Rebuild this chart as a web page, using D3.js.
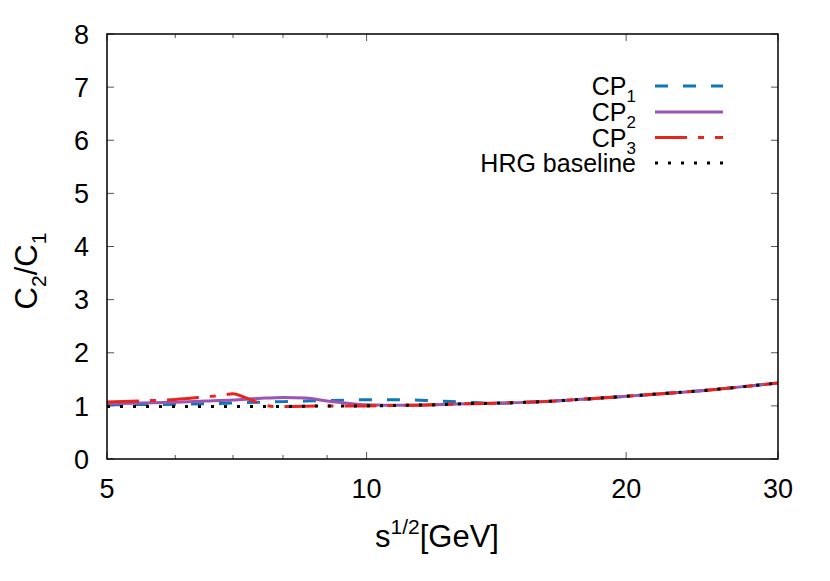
<!DOCTYPE html>
<html><head><meta charset="utf-8">
<script src="https://cdn.jsdelivr.net/npm/d3@7"></script>
<style>body{margin:0;background:#fff}svg{display:block}text{font-family:"Liberation Sans",Arial,sans-serif;fill:#000}</style>
</head><body>
<svg id="c" width="830" height="581"></svg>
<script>
// ---- data ----
const xDomain = [5, 30];
const yDomain = [0, 8];
const xMajorTicks = [5, 10, 20, 30];
const xMinorTicks = [6, 7, 8, 9];
const yTicks = [0, 1, 2, 3, 4, 5, 6, 7, 8];

const cp1X = [5, 5.5, 6, 6.5, 7, 7.5, 8, 8.5, 9, 9.5, 10, 11, 12, 13, 14, 16, 18, 20, 22, 25, 28, 30];
const cp1Y = [1.02, 1.025, 1.03, 1.04, 1.055, 1.07, 1.08, 1.09, 1.1, 1.108, 1.115, 1.115, 1.095, 1.07, 1.05, 1.08, 1.13, 1.18, 1.23, 1.30, 1.38, 1.43];

const cp2X = [5, 5.5, 6, 6.5, 7, 7.5, 8, 8.5, 9, 9.5, 10, 11, 12, 13, 14, 16, 18, 20, 22, 25, 28, 30];
const cp2Y = [1.04, 1.055, 1.07, 1.09, 1.11, 1.14, 1.16, 1.15, 1.09, 1.05, 1.02, 1.01, 1.02, 1.04, 1.05, 1.08, 1.13, 1.18, 1.23, 1.30, 1.38, 1.43];

const cp3X = [5, 5.5, 6, 6.5, 6.8, 7, 7.2, 7.4, 7.6, 7.8, 8, 9, 10, 11, 12, 13, 14, 16, 18, 20, 22, 25, 28, 30];
const cp3Y = [1.075, 1.095, 1.12, 1.17, 1.2, 1.23, 1.17, 1.09, 1.02, 0.99, 0.99, 1.0, 1.0, 1.01, 1.02, 1.04, 1.05, 1.08, 1.13, 1.18, 1.23, 1.30, 1.38, 1.43];

const hrgX = [5, 6, 7, 8, 9, 10, 11, 12, 13, 14, 16, 18, 20, 22, 25, 28, 30];
const hrgY = [0.99, 0.99, 0.99, 0.99, 1.0, 1.0, 1.01, 1.02, 1.04, 1.05, 1.08, 1.13, 1.18, 1.23, 1.30, 1.38, 1.43];

const seriesNames = ["CP1", "CP2", "CP3", "HRG baseline"];

// ---- layout ----
const L = 107, R = 778, T = 34, B = 459;
const svg = d3.select("#c");
const x = d3.scaleLog().domain(xDomain).range([L, R]);
const y = d3.scaleLinear().domain(yDomain).range([B, T]);

const series = [
  {name: seriesNames[0], xs: cp1X, ys: cp1Y, color: "#0f77b7", dash: "13,15"},
  {name: seriesNames[1], xs: cp2X, ys: cp2Y, color: "#9b55b3", dash: null},
  {name: seriesNames[2], xs: cp3X, ys: cp3Y, color: "#e8241b", dash: "32,11,6,11"},
  {name: seriesNames[3], xs: hrgX, ys: hrgY, color: "#000000", dash: "3,10"}
];

// ticks
const tk = svg.append("g").attr("stroke", "#555").attr("stroke-width", 1);
xMajorTicks.forEach(v => {
  tk.append("line").attr("x1", x(v)).attr("x2", x(v)).attr("y1", B).attr("y2", B - 7);
  tk.append("line").attr("x1", x(v)).attr("x2", x(v)).attr("y1", T).attr("y2", T + 7);
});
xMinorTicks.forEach(v => {
  tk.append("line").attr("x1", x(v)).attr("x2", x(v)).attr("y1", B).attr("y2", B - 4);
  tk.append("line").attr("x1", x(v)).attr("x2", x(v)).attr("y1", T).attr("y2", T + 4);
});
yTicks.forEach(v => {
  tk.append("line").attr("x1", L).attr("x2", L + 7).attr("y1", y(v)).attr("y2", y(v));
  tk.append("line").attr("x1", R).attr("x2", R - 7).attr("y1", y(v)).attr("y2", y(v));
});

// tick labels
svg.append("g").selectAll("text").data(xMajorTicks).join("text")
  .attr("x", d => x(d)).attr("y", 498).attr("text-anchor", "middle")
  .style("font-size", "27px").text(d => d);
svg.append("g").selectAll("text").data(yTicks).join("text")
  .attr("x", 89).attr("y", d => y(d)).attr("dy", "0.36em").attr("text-anchor", "end")
  .style("font-size", "27px").text(d => d);

// lines
const line = d3.line().x(d => x(d[0])).y(d => y(d[1])).curve(d3.curveMonotoneX);
const lg = svg.append("g");
series.forEach(s => {
  const pts = s.xs.map((v, i) => [v, s.ys[i]]);
  const p = lg.append("path").attr("d", line(pts)).attr("fill", "none")
    .attr("stroke", s.color).attr("stroke-width", 3);
  if (s.dash) p.attr("stroke-dasharray", s.dash);
});

// border
svg.append("rect").attr("x", L).attr("y", T).attr("width", R - L).attr("height", B - T)
  .attr("fill", "none").attr("stroke", "#000").attr("stroke-width", 1.5);

// legend
const legY = [86, 112, 137.5, 163];
series.forEach((s, i) => {
  const t = svg.append("text").attr("x", 636).attr("y", legY[i]).attr("dy", "0.36em")
    .attr("text-anchor", "end").style("font-size", "25px");
  if (i < 3) {
    t.append("tspan").text("CP");
    t.append("tspan").attr("dy", 7).style("font-size", "17px").text(String(i + 1));
  } else {
    t.text(s.name);
  }
  const p = svg.append("line").attr("x1", 655).attr("x2", 723).attr("y1", legY[i]).attr("y2", legY[i])
    .attr("stroke", s.color).attr("stroke-width", 3);
  if (s.dash) p.attr("stroke-dasharray", s.dash);
});

// axis titles
const xt = svg.append("text").attr("x", 437).attr("y", 547).attr("text-anchor", "middle").style("font-size", "31px");
xt.append("tspan").text("s");
xt.append("tspan").attr("dy", -13).style("font-size", "21px").text("1/2");
xt.append("tspan").attr("dy", 13).text("[GeV]");

const yt = svg.append("text").attr("transform", "translate(37,271) rotate(-90)").attr("text-anchor", "middle").style("font-size", "31px");
yt.append("tspan").text("C");
yt.append("tspan").attr("dy", 9).style("font-size", "21px").text("2");
yt.append("tspan").attr("dy", -9).text("/C");
yt.append("tspan").attr("dy", 9).style("font-size", "21px").text("1");
</script>
</body></html>
